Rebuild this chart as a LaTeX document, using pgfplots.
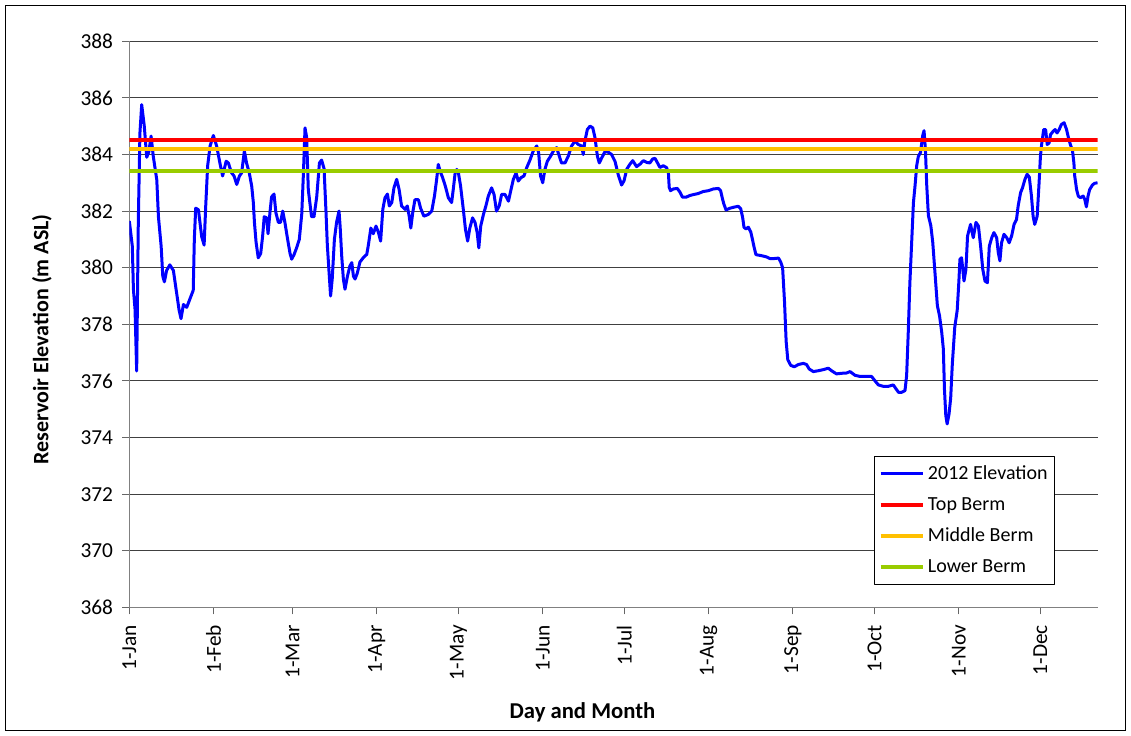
\documentclass[border=0pt]{standalone}
\usepackage{fontspec}
\setmainfont{Carlito}
\usepackage{pgfplots}
\pgfplotsset{compat=1.18}
\definecolor{elev}{HTML}{0000FF}
\definecolor{topb}{HTML}{FF0000}
\definecolor{midb}{HTML}{FFC000}
\definecolor{lowb}{HTML}{99CC00}
\begin{document}
\begin{tikzpicture}
\useasboundingbox (-97pt,-96.4pt) rectangle (751.3pt,455.6pt);
\draw[black, line width=0.75pt] (-92.5pt,-92.6pt) rectangle (746.8pt,451.1pt);
\begin{axis}[
  at={(0,0)}, anchor=south west,
  scale only axis, width=726.2pt, height=424.7pt,
  xmin=0, xmax=356, ymin=368, ymax=388,
  xtick={0,31,60,91,121,152,182,213,244,274,305,335},
  xticklabels={1-Jan,1-Feb,1-Mar,1-Apr,1-May,1-Jun,1-Jul,1-Aug,1-Sep,1-Oct,1-Nov,1-Dec},
  ytick={368,370,...,388},
  ymajorgrids, grid style={line width=0.75pt, color=black!75},
  axis x line*=bottom, axis y line*=left,
  axis line style={line width=0.9pt, color=black!50, -},
  tick style={line width=0.75pt, color=black!60},
  tick align=outside, major tick length=5.25pt,
  /pgf/number format/assume math mode=true,
  /pgf/number format/1000 sep={},
  yticklabel style={font=\fontsize{16}{19}\selectfont},
  yticklabel shift=3.5pt,
  xticklabel style={font=\fontsize{16}{19}\selectfont, rotate=90, anchor=east},
  xticklabel shift=4.5pt,
  xlabel={Day and Month},
  xlabel style={at={(axis description cs:0.468,-0.1846)}, anchor=center, font=\bfseries\fontsize{17}{20}\selectfont},
  ylabel={Reservoir Elevation (m ASL)},
  ylabel style={at={(axis description cs:-0.0902,0.4733)}, anchor=center, font=\bfseries\fontsize{16.5}{20}\selectfont},
  legend style={at={(axis description cs:0.7695,0.2676)}, anchor=north west, draw=black, fill=white,
    font=\fontsize{15}{18}\selectfont, row sep=7.75pt, inner xsep=3pt, inner ysep=5.25pt, cells={anchor=west}},
  legend image code/.code={\draw[#1] (0pt,0pt) -- (32pt,0pt);},
  line join=round,
]
\addplot[elev, line width=2.25pt, line join=round] coordinates {
(0,381.65) (1.1,380.76) (1.5,379.24) (2.1,378.53) (2.7,376.35) (3.3,381.6) (3.9,384.76) (4.55,385.76)
(5.5,385.0) (6.4,383.9) (7.2,384.1) (8.0,384.65) (8.8,383.94) (10.1,383.1) (10.7,381.8) (11.7,380.76)
(12.3,379.7) (12.9,379.5) (13.7,379.9) (14.9,380.1) (16.2,379.9) (17.4,379.1) (18.3,378.5) (19.0,378.2)
(19.9,378.7) (21.1,378.6) (22.3,378.9) (23.5,379.2) (23.9,381.0) (24.4,382.1) (25.4,382.05) (26.6,381.1)
(27.5,380.8) (28.1,382.2) (28.8,383.6) (29.7,384.3) (30.9,384.67) (32.1,384.3) (33.4,383.65) (34.3,383.24)
(35.6,383.76) (36.4,383.7) (37.6,383.35) (38.5,383.24) (39.5,382.94) (40.5,383.24) (41.3,383.35) (42.3,384.12)
(43.1,383.7) (44.1,383.35) (45.0,382.88) (45.6,382.3) (46.0,381.6) (46.6,380.9) (47.4,380.35) (48.3,380.5)
(49.0,381.1) (49.6,381.8) (50.5,381.76) (51.0,381.2) (51.7,381.94) (52.3,382.5) (53.2,382.6) (53.9,381.94)
(54.8,381.6) (55.6,381.6) (56.4,382.0) (57.2,381.6) (58.1,381.06) (59.1,380.5) (59.7,380.3) (60.6,380.47)
(61.5,380.7) (62.5,381.0) (63.4,381.9) (64.0,383.3) (64.6,384.94) (65.2,384.6) (65.8,382.76) (67.0,381.8)
(67.9,381.8) (68.9,382.5) (69.9,383.7) (70.7,383.8) (71.6,383.5) (72.3,382.0) (72.8,380.8) (73.4,379.9)
(74.0,379.0) (74.6,379.6) (75.4,381.0) (76.2,381.6) (77.1,382.0) (77.5,381.47) (78.1,380.4) (78.7,379.6)
(79.3,379.24) (80.2,379.7) (81.1,380.06) (81.8,380.18) (82.4,379.7) (83.0,379.6) (83.8,379.8) (84.8,380.2)
(86.0,380.35) (87.3,380.47) (87.9,380.8) (88.8,381.4) (89.7,381.2) (90.7,381.47) (91.6,381.24) (92.4,380.94)
(93.2,382.06) (94.0,382.47) (94.9,382.6) (95.6,382.18) (96.5,382.3) (97.3,382.82) (98.3,383.12) (99.2,382.76)
(100.1,382.18) (101.4,382.06) (102.2,382.18) (102.9,381.82) (103.5,381.4) (104.2,381.94) (105.0,382.4) (106.3,382.4)
(107.1,382.1) (108.3,381.82) (109.9,381.88) (111.2,382.0) (112.2,382.53) (113.0,383.12) (113.6,383.65) (114.3,383.4)
(115.2,383.18) (116.2,382.88) (117.3,382.47) (118.5,382.3) (119.1,382.76) (119.8,383.35) (120.4,383.47) (121.0,383.35)
(121.8,382.88) (122.8,382.06) (123.6,381.35) (124.4,380.94) (125.2,381.4) (126.2,381.76) (127.1,381.6) (127.9,381.24)
(128.5,380.7) (129.2,381.47) (130.2,381.88) (131.1,382.18) (132.0,382.53) (133.2,382.82) (134.1,382.59) (135.0,382.0)
(136.0,382.18) (136.9,382.59) (138.1,382.59) (139.4,382.35) (140.2,382.7) (141.2,383.12) (142.2,383.35) (143.0,383.06)
(144.0,383.18) (145.1,383.24) (146.1,383.53) (147.3,383.8) (148.5,384.12) (149.8,384.3) (150.5,384.06) (151.2,383.24)
(152.0,383.0) (152.8,383.47) (153.7,383.76) (154.9,383.94) (155.9,384.12) (157.1,384.24) (158.1,383.94) (158.9,383.7)
(160.2,383.7) (161.4,383.94) (162.6,384.3) (163.9,384.47) (165.1,384.35) (166.3,384.3) (166.9,384.0) (167.5,384.47)
(168.4,384.88) (169.4,385.0) (170.4,384.94) (171.2,384.6) (172.1,383.94) (172.8,383.7) (173.7,383.88) (174.9,384.1)
(176.1,384.08) (177.3,384.0) (178.6,383.75) (179.8,383.27) (181.0,382.92) (181.9,383.07) (182.9,383.48) (184.1,383.66)
(185.1,383.78) (186.5,383.57) (187.8,383.66) (189.0,383.78) (190.2,383.72) (191.4,383.7) (192.4,383.84) (193.3,383.86)
(194.1,383.72) (195.1,383.54) (196.3,383.6) (197.5,383.54) (198.2,383.37) (198.5,382.84) (199.0,382.72) (200.0,382.78)
(201.5,382.8) (202.5,382.66) (203.4,382.49) (204.7,382.49) (206.1,382.55) (207.3,382.58) (209.2,382.62) (211.0,382.69)
(212.9,382.72) (214.7,382.78) (216.6,382.8) (217.4,382.72) (218.1,382.43) (218.6,382.25) (219.4,382.04) (220.8,382.1)
(222.4,382.14) (223.9,382.17) (224.8,382.08) (225.5,381.78) (226.0,381.43) (226.7,381.37) (227.6,381.43) (228.5,381.26)
(229.2,380.96) (229.7,380.73) (230.4,380.46) (231.6,380.44) (233.1,380.41) (234.3,380.38) (235.6,380.32) (236.8,380.32)
(238.7,380.34) (239.5,380.2) (240.2,380.0) (240.9,378.8) (241.5,377.4) (242.1,376.75) (243.2,376.55) (244.5,376.5)
(246.0,376.58) (247.8,376.62) (249.0,376.58) (250.0,376.42) (251.5,376.33) (253.3,376.36) (255.2,376.4) (257.0,376.45)
(258.2,376.36) (260.0,376.25) (261.9,376.27) (263.7,376.28) (265.0,376.33) (266.8,376.2) (268.6,376.16) (270.5,376.16)
(272.9,376.16) (274.2,376.0) (275.4,375.86) (277.2,375.81) (279.1,375.81) (280.9,375.86) (281.9,375.72) (282.8,375.6)
(284.0,375.6) (285.2,375.66) (285.8,376.19) (286.4,377.72) (287.0,379.48) (287.6,380.78) (288.3,382.3) (288.9,382.9)
(289.5,383.6) (290.1,383.93) (290.9,384.07) (291.7,384.66) (292.2,384.84) (292.7,384.19) (293.2,382.9) (293.8,381.84)
(294.7,381.48) (295.4,380.9) (296.3,379.72) (297.1,378.66) (297.9,378.3) (298.7,377.72) (299.3,377.13) (299.7,375.72)
(300.2,374.78) (300.7,374.48) (301.4,374.84) (302.0,375.4) (302.6,376.6) (303.5,377.9) (304.4,378.5) (305.0,379.5)
(305.4,380.3) (306.0,380.35) (306.9,379.53) (307.6,379.94) (308.2,381.12) (309.3,381.53) (310.3,381.06) (311.3,381.6)
(312.2,381.47) (313.0,380.76) (313.8,379.94) (314.6,379.53) (315.5,379.47) (316.2,380.76) (317.1,381.06) (317.9,381.24)
(318.9,381.06) (319.5,380.53) (320.1,380.24) (320.7,380.88) (321.6,381.18) (322.6,381.06) (323.5,380.88) (324.4,381.12)
(325.3,381.53) (326.2,381.7) (326.8,382.18) (327.7,382.65) (328.4,382.82) (329.3,383.12) (330.1,383.3) (330.9,383.2)
(331.7,382.53) (332.3,381.82) (332.9,381.53) (333.8,381.82) (334.5,383.0) (335.0,383.94) (335.5,384.4) (336.2,384.88)
(336.9,384.88) (337.5,384.35) (338.2,384.41) (338.7,384.7) (339.7,384.82) (340.4,384.88) (341.1,384.76) (341.9,384.88)
(342.7,385.06) (343.7,385.12) (344.6,384.88) (345.3,384.59) (346.0,384.35) (346.8,384.12) (347.3,383.7) (347.6,383.24)
(348.3,382.76) (348.9,382.53) (349.7,382.47) (350.7,382.53) (351.3,382.41) (351.9,382.15) (352.5,382.53) (353.1,382.76)
(354.1,382.92) (354.9,382.98) (356,383.0)
};
\addlegendentry{2012 Elevation}
\addplot[topb, line width=3pt] coordinates {(0,384.5) (356,384.5)};
\addlegendentry{Top Berm}
\addplot[midb, line width=3pt] coordinates {(0,384.2) (356,384.2)};
\addlegendentry{Middle Berm}
\addplot[lowb, line width=3pt] coordinates {(0,383.4) (356,383.4)};
\addlegendentry{Lower Berm}
\end{axis}
\end{tikzpicture}
\end{document}
